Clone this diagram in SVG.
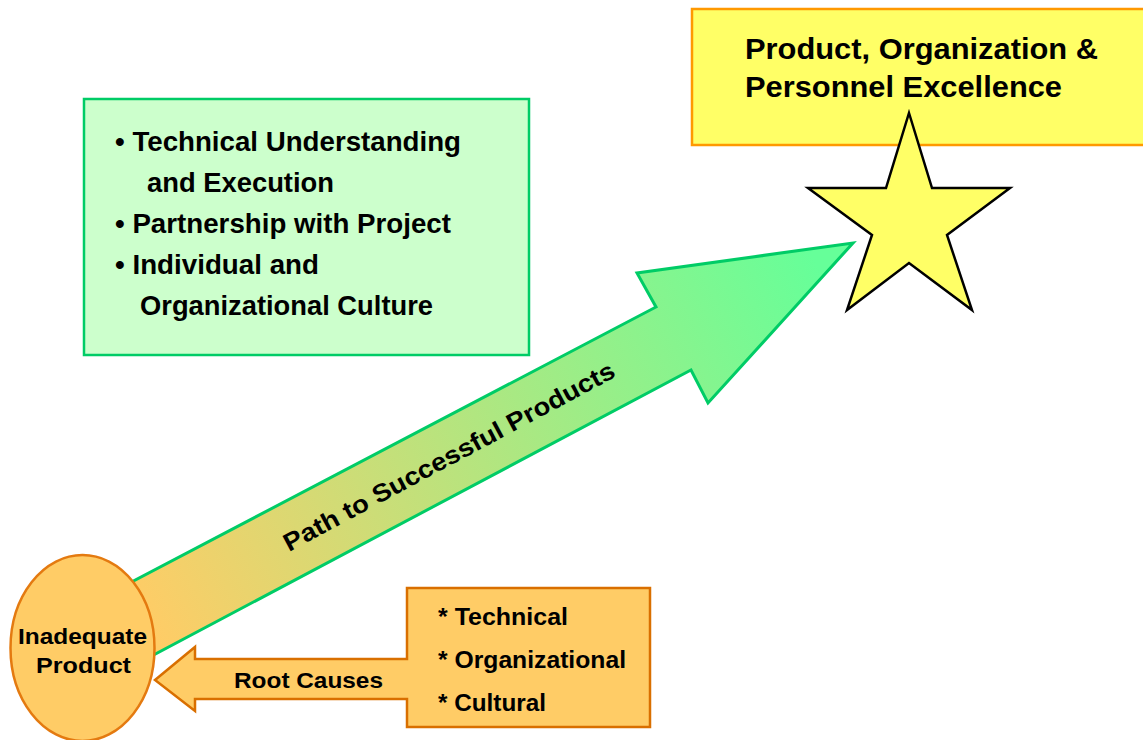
<svg xmlns="http://www.w3.org/2000/svg" width="1143" height="740" viewBox="0 0 1143 740">
<defs>
<linearGradient id="pathGrad" gradientUnits="userSpaceOnUse" x1="150" y1="630" x2="820" y2="270">
<stop offset="0" stop-color="#ffcc66"/>
<stop offset="1" stop-color="#66ff99"/>
</linearGradient>
<style>
text{font-family:"Liberation Sans",Arial,sans-serif;font-weight:bold;fill:#000}
.green{fill:#ccffcc;stroke:#00cc66;stroke-width:2.5}
.goal{fill:#ffff66;stroke:#ff9900;stroke-width:2.5}
.orange{fill:#ffcc66;stroke:#d96f00;stroke-width:2.5}
</style>
</defs>
<rect width="1143" height="740" fill="#fff"/>
<g id="goal-box">
<rect class="goal" x="692" y="9" width="460" height="136"/>
<text x="745" y="59" font-size="29.5" textLength="353" lengthAdjust="spacingAndGlyphs">Product, Organization &amp;</text>
<text x="745" y="97" font-size="29.5" textLength="317" lengthAdjust="spacingAndGlyphs">Personnel Excellence</text>
</g>
<g id="star">
<polygon points="909,113 932,188 1010,188 947,235 972,310 909,263 847,310 872,235 808,188 886,188" fill="#ffff66" stroke="#000" stroke-width="2.5" stroke-linejoin="miter"/>
</g>
<g id="factors-box">
<rect class="green" x="84" y="99" width="445" height="256"/>
<text x="115" y="151" font-size="27.5" textLength="346" lengthAdjust="spacingAndGlyphs">• Technical Understanding</text>
<text x="147" y="192" font-size="27.5" textLength="187" lengthAdjust="spacingAndGlyphs">and Execution</text>
<text x="115" y="233" font-size="27.5" textLength="336" lengthAdjust="spacingAndGlyphs">• Partnership with Project</text>
<text x="115" y="274" font-size="27.5" textLength="204" lengthAdjust="spacingAndGlyphs">• Individual and</text>
<text x="140" y="315" font-size="27.5" textLength="293" lengthAdjust="spacingAndGlyphs">Organizational Culture</text>
</g>
<g id="connectors">
<g id="path-arrow">
<polygon points="80,609 656,307 637,273 853,243 708,403 691,370 80,694" fill="url(#pathGrad)" stroke="#00cc66" stroke-width="3" stroke-linejoin="miter"/>
<text x="453" y="464" font-size="25" text-anchor="middle" textLength="372" lengthAdjust="spacingAndGlyphs" transform="rotate(-28.2 453 464)">Path to Successful Products</text>
</g>
<g id="root-causes">
<path class="orange" d="M407,588 H650 V727 H407 V699 H195 V711 L155,680 L195,647 V659 H407 Z"/>
<text x="234" y="688" font-size="22" textLength="149" lengthAdjust="spacingAndGlyphs">Root Causes</text>
</g>
</g>
<g id="inadequate-product">
<ellipse cx="82.5" cy="648" rx="72" ry="93" fill="#ffcc66" stroke="#e47a10" stroke-width="2.5"/>
<text x="18" y="644" font-size="22" textLength="129" lengthAdjust="spacingAndGlyphs">Inadequate</text>
<text x="36" y="673" font-size="22" textLength="95" lengthAdjust="spacingAndGlyphs">Product</text>
</g>
<g id="causes-list">
<text x="438" y="625" font-size="24" textLength="130" lengthAdjust="spacingAndGlyphs">* Technical</text>
<text x="438" y="668" font-size="24" textLength="188" lengthAdjust="spacingAndGlyphs">* Organizational</text>
<text x="438" y="711" font-size="24" textLength="108" lengthAdjust="spacingAndGlyphs">* Cultural</text>
</g>
</svg>
